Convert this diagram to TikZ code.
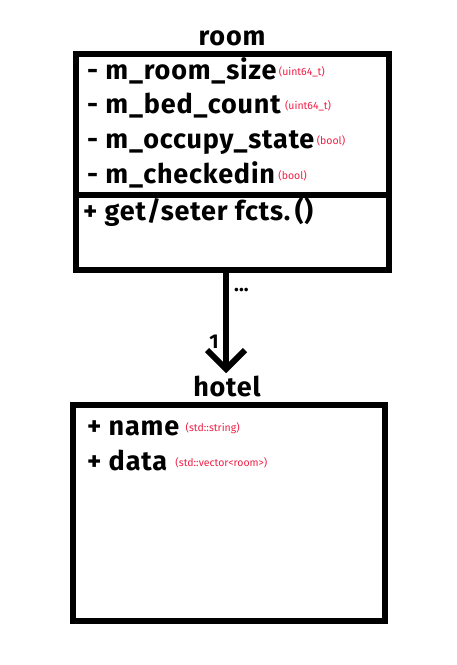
\documentclass[tikz,border=0pt]{standalone}
\usepackage{fontspec}
\setmainfont{Fira Sans}
\newfontfamily\widebold[LetterSpace=3]{Fira Sans}
\usetikzlibrary{arrows.meta,calc}
\definecolor{typered}{RGB}{240,32,70}
\begin{document}
\begin{tikzpicture}[x=1pt,y=-1pt,
  box/.style={draw=black, line width=6pt, inner sep=0pt},
  title/.style={anchor=base, inner sep=0pt, font=\widebold\fontsize{27}{30}\selectfont\bfseries},
  attr/.style={anchor=base west, inner sep=0pt, font=\widebold\fontsize{27}{30}\selectfont\bfseries},
  typ/.style={anchor=base west, inner sep=0pt, text=typered, font=\fontsize{10.5}{12}\selectfont},
  conn/.style={draw=black, line width=6pt},
  lbl/.style={inner sep=0pt, font=\fontsize{20}{22}\selectfont\bfseries}]
\useasboundingbox (0,0) rectangle (457,665);
\fill[white] (0,0) rectangle (457,665);
% room class
\node[title] (roomtitle) at (232,45) {room};
\node[box, minimum width=313pt, minimum height=216pt] (room) at (232.5,162) {};
\coordinate (divl) at (76,194.5);
\coordinate (divr) at (389,194.5);
\draw[conn] (divl) -- (divr);
\node[attr] (a1) at (87,79) {- m\_room\_size};
\node[typ] (t1) at ($(a1.base east)+(2,-4)$) {(uint64\_t)};
\node[attr] (a2) at (87,113) {- m\_bed\_count};
\node[typ] (t2) at ($(a2.base east)+(4,-4)$) {(uint64\_t)};
\node[attr] (a3) at (87,148) {- m\_occupy\_state};
\node[typ] (t3) at ($(a3.base east)+(2,-4)$) {(bool)};
\node[attr] (a4) at (87,183) {- m\_checkedin};
\node[typ] (t4) at ($(a4.base east)+(3,-4)$) {(bool)};
\node[attr] (m1) at (83,220) {+ get/seter fcts.\,()};
% hotel class
\node[title] (hoteltitle) at (227,396) {hotel};
\node[box, minimum width=312pt, minimum height=216pt] (hotel) at (229,513) {};
\node[attr] (h1) at (87,435) {+ name};
\node[typ] (ht1) at ($(h1.base east)+(6,-4)$) {(std::string)};
\node[attr] (h2) at (87,470) {+ data};
\node[typ] (ht2) at ($(h2.base east)+(8,-4)$) {(std::vector<room>)};
% association
\coordinate (start) at (226,270);
\coordinate (tip) at (226,369);
\draw[conn] (start) -- (tip);
\draw[conn, miter limit=10] ($(tip)+(-19,-19)$) -- (tip) -- ($(tip)+(19,-19)$);
\node[lbl, anchor=base west] (mult1) at (234,291) {...};
\node[lbl, anchor=base] (mult2) at (214,348) {1};
\end{tikzpicture}
\end{document}
